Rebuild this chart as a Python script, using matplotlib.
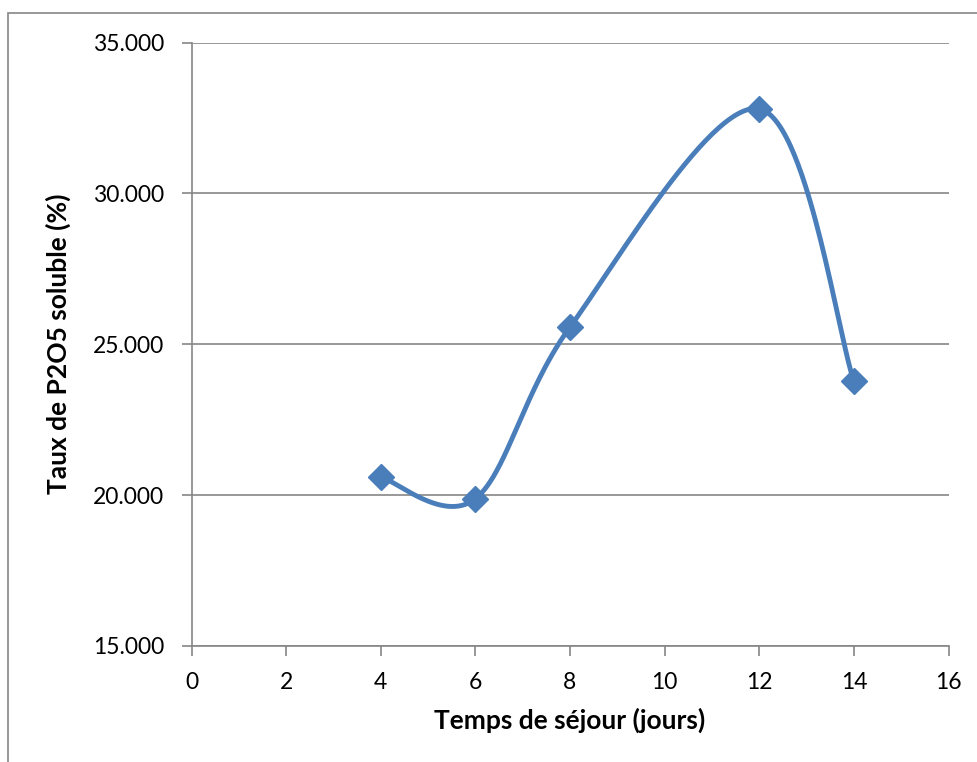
import numpy as np
import matplotlib
matplotlib.use("Agg")
import matplotlib.pyplot as plt
from matplotlib.patches import Rectangle

days = [4, 6, 8, 12, 14]
p2o5 = [20.6, 19.88, 25.57, 32.8, 23.77]
x_ticks = [0, 2, 4, 6, 8, 10, 12, 14, 16]
y_ticks = [15, 20, 25, 30, 35]
x_label = "Temps de séjour (jours)"
y_label = "Taux de P2O5 soluble (%)"

plt.rcParams['font.family'] = ['Lato', 'DejaVu Sans']

W, H = 977, 762
fig = plt.figure(figsize=(W / 100, H / 100), dpi=100)
L, R, T, B = 191.5, 948.5, 42.5, 646
ax = fig.add_axes([L / W, 1 - B / H, (R - L) / W, (B - T) / H])

# Excel-like smoothed line (Catmull-Rom Bezier)
def smooth(xs, ys, n=60):
    P = np.column_stack([xs, ys]).astype(float)
    pts = []
    for i in range(len(P) - 1):
        p0 = P[i - 1] if i > 0 else P[i]
        p1 = P[i]
        p2 = P[i + 1]
        p3 = P[i + 2] if i + 2 < len(P) else P[i + 1]
        c1 = p1 + (p2 - p0) / 6
        c2 = p2 - (p3 - p1) / 6
        t = np.linspace(0, 1, n)[:, None]
        seg = ((1 - t) ** 3) * p1 + 3 * ((1 - t) ** 2) * t * c1 + 3 * (1 - t) * t ** 2 * c2 + t ** 3 * p2
        pts.append(seg if i == 0 else seg[1:])
    pts = np.vstack(pts)
    return pts[:, 0], pts[:, 1]

sx, sy = smooth(days, p2o5)
color = "#4A7EBB"
ax.plot(sx, sy, color=color, lw=3.5, solid_capstyle='round', zorder=3)
ax.plot(days, p2o5, linestyle='none', marker='D', ms=13, color=color, zorder=4)

ax.set_xlim(0, 16)
ax.set_ylim(15, 35)
ax.set_xticks(x_ticks)
ax.set_yticks(y_ticks)
ax.set_yticklabels([f"{v:.3f}" for v in y_ticks])
ax.yaxis.grid(True, color="#868686", lw=1.2)
ax.set_axisbelow(True)
for s in ['top', 'right']:
    ax.spines[s].set_visible(False)
for s in ['left', 'bottom']:
    ax.spines[s].set_color("#868686")
    ax.spines[s].set_linewidth(1.2)
ax.tick_params(axis='both', direction='out', length=7, width=1.2, color="#868686",
               labelsize=16.5, labelcolor='black')
ax.tick_params(axis='x', pad=12)
ax.tick_params(axis='y', pad=12.5)

ax.set_xlabel(x_label, fontsize=19, fontweight='bold', labelpad=10)
ax.set_ylabel(y_label, fontsize=19, fontweight='bold', labelpad=16)

# chart area border
fig.patches.append(Rectangle((8 / W, -0.1), 1.2, 1 - 12.5 / H + 0.1, transform=fig.transFigure,
                             fill=False, edgecolor="#868686", lw=1.2))

fig.savefig("out.png", dpi=100)
